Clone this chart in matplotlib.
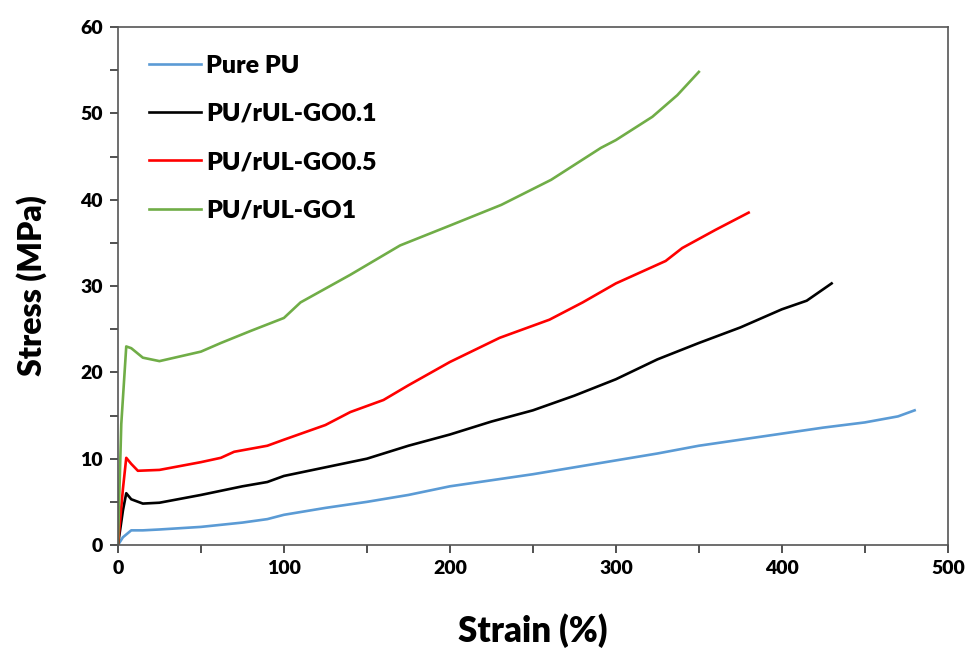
import matplotlib.pyplot as plt
from matplotlib.ticker import MultipleLocator

plt.rcParams['font.family'] = ['Lato', 'DejaVu Sans']
plt.rcParams['font.weight'] = 'heavy'

# strain (%) / stress (MPa)
pu_x = [0, 3, 8, 15, 25, 50, 75, 90, 100, 125, 150, 175, 200, 225, 250, 275, 300,
        325, 350, 375, 400, 425, 450, 470, 480]
pu_y = [0, 0.9, 1.7, 1.7, 1.8, 2.1, 2.6, 3.0, 3.5, 4.3, 5.0, 5.8, 6.8, 7.5, 8.2,
        9.0, 9.8, 10.6, 11.5, 12.2, 12.9, 13.6, 14.2, 14.9, 15.6]

go01_x = [0, 3, 5, 8, 15, 25, 50, 75, 90, 100, 125, 150, 175, 200, 225, 250, 275,
          300, 325, 350, 375, 400, 415, 430]
go01_y = [0, 4.0, 6.0, 5.3, 4.8, 4.9, 5.8, 6.8, 7.3, 8.0, 9.0, 10.0, 11.5, 12.8,
          14.3, 15.6, 17.3, 19.2, 21.5, 23.4, 25.2, 27.3, 28.3, 30.3]

go05_x = [0, 3, 5, 8, 12, 25, 50, 62, 70, 90, 100, 125, 140, 160, 175, 200, 230,
          260, 280, 300, 330, 340, 360, 380]
go05_y = [0, 6.5, 10.1, 9.4, 8.6, 8.7, 9.6, 10.1, 10.8, 11.5, 12.2, 13.9, 15.4,
          16.8, 18.5, 21.2, 24.0, 26.1, 28.1, 30.3, 32.9, 34.4, 36.5, 38.5]

go1_x = [0, 2, 5, 8, 15, 25, 50, 62, 80, 100, 110, 140, 170, 200, 231, 261, 291,
         300, 322, 337, 350]
go1_y = [0, 14.0, 23.0, 22.8, 21.7, 21.3, 22.4, 23.4, 24.8, 26.3, 28.1, 31.3,
         34.7, 37.0, 39.4, 42.3, 46.0, 46.9, 49.6, 52.1, 54.8]

labels = ['Pure PU', 'PU/rUL-GO0.1', 'PU/rUL-GO0.5', 'PU/rUL-GO1']
colors = ['#5B9BD5', '#000000', '#FF0000', '#70AD47']

fig = plt.figure(figsize=(9.74, 6.6), dpi=100)
ax = fig.add_axes([0.1211, 0.1742, 0.852, 0.7849])

series = [(pu_x, pu_y), (go01_x, go01_y), (go05_x, go05_y), (go1_x, go1_y)]
for (x, y), lab, c in zip(series, labels, colors):
    ax.plot(x, y, color=c, lw=1.9, label=lab)

ax.set_xlim(0, 500)
ax.set_ylim(0, 60)
ax.xaxis.set_major_locator(MultipleLocator(100))
ax.xaxis.set_minor_locator(MultipleLocator(50))
ax.yaxis.set_major_locator(MultipleLocator(10))
ax.yaxis.set_minor_locator(MultipleLocator(5))
ax.tick_params(which='both', direction='out', length=6, width=1.2, color='#333333')
ax.tick_params(labelsize=14, pad=5)
for s in ax.spines.values():
    s.set_color('#555555')
    s.set_linewidth(1.2)

ax.set_xlabel('Strain (%)', fontsize=25, fontweight='heavy', labelpad=26)
ax.set_ylabel('Stress (MPa)', fontsize=23, fontweight='heavy', labelpad=24)

ax.legend(loc='upper left', bbox_to_anchor=(0.01, 0.99), frameon=False,
          fontsize=18, handlelength=2.1, handletextpad=0.2, labelspacing=1.05)

fig.savefig('out.png', dpi=100)
